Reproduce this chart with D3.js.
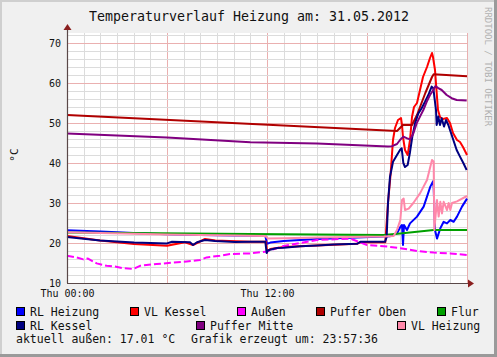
<!DOCTYPE html>
<html><head><meta charset="utf-8">
<script src="https://cdn.jsdelivr.net/npm/d3@7"></script>
<style>
html,body{margin:0;padding:0;background:#f0f0f0;}
svg{display:block;}
text{font-family:"DejaVu Sans Mono",monospace;fill:#111;}
</style></head>
<body>
<svg id="c" width="497" height="357"></svg>
<script>
// ---- data (time in hours of 31.05.2012, value in °C) ----
const title = "Temperaturverlauf Heizung am: 31.05.2012";
const yTicks = [10, 20, 30, 40, 50, 60, 70];
const xTicks = [0, 12];
const xTickLabels = ["Thu 00:00", "Thu 12:00"];
const seriesNames = ["RL Heizung","VL Kessel","Außen","Puffer Oben","Flur","RL Kessel","Puffer Mitte","VL Heizung"];
const seriesColors = ["#0000ff","#ff0000","#ff00ff","#b00000","#00a000","#000080","#800080","#ff88aa"];

const rlHeizung = [[0,23.2],[2,22.9],[4,22.5],[6,22.2],[8,22.0],[10,21.9],[11.9,21.8],[12,19.8],[12.2,20.1],[13,20.5],[15,21.0],[17,21.3],[19,21.6],[19.4,21.7],[19.8,22.4],[20,24],[20.1,24.5],[20.16,19.5],[20.22,24.5],[20.4,23.25],[20.58,24.9],[21,26.6],[21.4,29.1],[21.8,34.1],[21.96,35.4],[22.0,34],[22.08,23.25],[22.2,21.1],[22.3,22.4],[22.4,23.7],[22.6,25.3],[22.8,24.9],[23,25.75],[23.2,25.3],[23.4,26.6],[23.7,29.1],[24,31.1]];
const vlKessel = [[0,21.75],[1.98,20.6],[4.02,19.75],[6,19.3],[7.08,20.2],[7.56,19.5],[8.28,21],[8.9,20.6],[11,20.3],[11.94,20.3],[12,17.8],[12.2,18.5],[13,19],[15,19.4],[17.4,19.8],[17.6,20.2],[19.1,20.2],[19.26,30],[19.42,37.4],[19.56,45.75],[19.68,48.75],[19.86,50.75],[20.04,51.25],[20.1,49.5],[20.16,46.5],[20.28,43.25],[20.44,42],[20.58,45.75],[20.7,51.5],[20.82,54],[21,55],[21.18,58.25],[21.36,61.5],[21.6,64],[21.78,66.25],[21.9,67.5],[21.96,66.5],[22.08,63.25],[22.2,56.5],[22.26,53.25],[22.38,51.5],[22.56,51],[22.8,51.25],[22.98,50],[23.16,47.5],[23.4,45.75],[23.58,45.25],[23.76,44],[24,42]];
const aussen = [[0,16.8],[0.58,16.4],[0.98,15.9],[1.26,16.1],[1.78,14.9],[2.38,14.3],[2.88,14.1],[3.38,13.7],[3.98,13.5],[4.38,14.3],[5.38,14.75],[6.38,15.1],[7.18,15.4],[7.98,15.75],[8.38,16.4],[9.18,16.8],[9.78,17.25],[11,17.4],[12,17.9],[13,19.25],[15,20.75],[17,21.1],[18,19.5],[19.2,19.1],[20,18.7],[21,18],[22,17.6],[23,17.4],[24,17]];
const pufferOben = [[0,52],[19.8,48.0],[20.16,49.5],[20.7,49.5],[21,52],[21.5,57.5],[21.9,61.5],[22.0,62.2],[24,61.7]];
const flur = [[0,22.6],[11,22.25],[19,22],[20,22.4],[21,22.8],[22,23.25],[24,23.25]];
const rlKessel = [[0,21.5],[1.98,20.6],[4.02,20.1],[6,19.9],[6.3,20.3],[7.38,20.2],[7.56,19.5],[7.8,20.2],[8.28,20.75],[8.88,20.5],[10.08,20.25],[11,20.3],[11.9,20.3],[11.98,17.5],[12.06,18.2],[12.6,18.75],[13,18.8],[14,19.2],[15,19.4],[16,19.6],[17.4,19.8],[17.6,20.3],[19.08,20.3],[19.18,21.5],[19.26,30],[19.38,36.6],[19.5,39],[19.56,40.3],[19.8,42],[19.98,43.25],[20.08,43.7],[20.18,40],[20.28,39],[20.44,39.5],[20.58,42.7],[20.72,46.6],[20.88,49.9],[21.08,52.4],[21.28,53.7],[21.48,55.3],[21.68,57],[21.88,59.1],[21.98,58.7],[22.04,56.6],[22.14,53.25],[22.18,49.5],[22.28,51.6],[22.38,49.5],[22.48,51.2],[22.62,49.1],[22.74,50.75],[22.88,49.5],[22.98,48.25],[23.18,45.75],[23.38,43.25],[23.58,41.6],[23.78,40],[23.98,38.25]];
const pufferMitte = [[0,47.4],[6,46.4],[11,45.2],[15,44.9],[19.26,44.1],[19.5,44.2],[19.8,44.75],[19.98,45.75],[20.18,46.6],[20.38,46.2],[20.58,45.9],[20.78,47.4],[20.98,49.9],[21.18,51.6],[21.38,53.25],[21.58,55.3],[21.78,57],[21.98,58.25],[22.1,59.2],[22.28,58.7],[22.48,58.25],[22.78,57],[23.08,56.2],[23.38,55.75],[23.98,55.6]];
const vlHeizung = [[0,22.7],[2,22.5],[4,22.3],[6,22.1],[8,22.0],[10,21.9],[11.9,21.75],[12.06,21.1],[13,21.2],[15,21.4],[19,21.6],[19.6,21.75],[19.8,23.25],[20,25.75],[20.1,30.75],[20.2,31.1],[20.28,28.25],[20.5,28.6],[20.78,30],[21.18,32.4],[21.6,35.75],[21.9,40.75],[22.0,40.4],[22.04,23.25],[22.2,30.75],[22.3,26.6],[22.4,30.3],[22.5,27.4],[22.6,30.3],[22.8,28.25],[22.9,30],[23.0,28.25],[23.1,30],[23.4,30.4],[24,31.75]];
const seriesData = [rlHeizung, vlKessel, aussen, pufferOben, flur, rlKessel, pufferMitte, vlHeizung];
const footerLeft = "aktuell außen: 17.01 °C";
const footerRight = "Grafik erzeugt um: 23:57:36";
const credit = "RRDTOOL / TOBI OETIKER";

// ---- drawing ----
const svg = d3.select("#c");
const W = 497, H = 357;
const L = 67, R = 467, T = 33, B = 283;
const x = d3.scaleLinear().domain([0, 24]).range([L, R]);
const y = d3.scaleLinear().domain([10, 72.5]).range([B, T]);

// frame
svg.append("rect").attr("x",0).attr("y",0).attr("width",W).attr("height",H).attr("fill","#f0f0f0");
svg.append("rect").attr("x",0).attr("y",0).attr("width",W).attr("height",2).attr("fill","#cfcfcf");
svg.append("rect").attr("x",0).attr("y",0).attr("width",2).attr("height",H).attr("fill","#cfcfcf");
svg.append("rect").attr("x",W-3).attr("y",0).attr("width",3).attr("height",H).attr("fill","#9a9a9a");
svg.append("rect").attr("x",0).attr("y",H-3).attr("width",W).attr("height",3).attr("fill","#9a9a9a");

// plot background
svg.append("rect").attr("x",L).attr("y",T).attr("width",R-L).attr("height",B-T).attr("fill","#ffffff");

// grid
const g = svg.append("g").attr("shape-rendering","crispEdges");
d3.range(0, 25, 1).forEach(h => {
  const major = h % 6 === 0;
  g.append("line").attr("x1",x(h)+0.5).attr("x2",x(h)+0.5).attr("y1",T).attr("y2",B)
    .attr("stroke", major ? "#eab0b0" : "#dcdcdc").attr("stroke-width",1);
});
d3.range(10, 73, 2).forEach(v => {
  const major = v % 10 === 0;
  g.append("line").attr("x1",L).attr("x2",R).attr("y1",Math.round(y(v))+0.5).attr("y2",Math.round(y(v))+0.5)
    .attr("stroke", major ? "#eab0b0" : "#dcdcdc").attr("stroke-width",1);
});

// series
const line = d3.line().x(d => x(d[0])).y(d => y(d[1]));
seriesData.forEach((data, i) => {
  svg.append("path").datum(data).attr("d", line)
    .attr("fill","none").attr("stroke", seriesColors[i]).attr("stroke-width", 2)
    .attr("stroke-linejoin","round")
    .attr("stroke-dasharray", seriesNames[i] === "Außen" ? "7,3" : null);
});

// axes
const yAxis = d3.axisLeft(y).tickValues(yTicks).tickSize(0).tickPadding(6);
const ya = svg.append("g").attr("transform",`translate(${L},0)`).call(yAxis);
ya.select(".domain").remove();
ya.selectAll("text").style("font-family","DejaVu Sans Mono").style("font-size","10px").attr("fill","#111");
const xAxis = d3.axisBottom(x).tickValues(xTicks).tickFormat((d,i) => xTickLabels[i]).tickSize(0).tickPadding(7);
const xa = svg.append("g").attr("transform",`translate(0,${B})`).call(xAxis);
xa.select(".domain").remove();
xa.selectAll("text").style("font-family","DejaVu Sans Mono").style("font-size","10px").attr("fill","#111");

svg.append("line").attr("x1",L+0.5).attr("x2",L+0.5).attr("y1",B).attr("y2",T-4).attr("stroke","#5a4848").attr("stroke-width",1.2);
svg.append("line").attr("x1",L).attr("x2",R+4).attr("y1",B+0.5).attr("y2",B+0.5).attr("stroke","#5a4848").attr("stroke-width",1.2);
svg.append("path").attr("d",`M${L-3.5},${T-3} L${L+4.5},${T-3} L${L+0.5},${T-9} Z`).attr("fill","#8a1f1f");
svg.append("path").attr("d",`M${R+1},${B-3.5} L${R+1},${B+4.5} L${R+7},${B+0.5} Z`).attr("fill","#8a1f1f");

// titles
svg.append("text").attr("x",249).attr("y",21).attr("text-anchor","middle").style("font-size","13.3px").text(title);
svg.append("text").attr("transform","translate(18,155) rotate(-90)").attr("text-anchor","middle").style("font-size","11px").text("°C");
svg.append("text").attr("transform","translate(485,7) rotate(90)").attr("text-anchor","start")
  .style("font-size","9px").style("fill","#b0b0b0").text(credit);

// legend
const legendPos = [[16,307],[130,307],[237,307],[316,307],[437,307],[16,321],[196,321],[397,321]];
seriesNames.forEach((n, i) => {
  const [lx, ly] = legendPos[i];
  svg.append("rect").attr("x",lx+0.5).attr("y",ly+0.5).attr("width",8).attr("height",8)
    .attr("fill",seriesColors[i]).attr("stroke","#000").attr("stroke-width",1);
  svg.append("text").attr("x",lx+14).attr("y",ly+8.5).style("font-size","11.5px").text(n);
});
svg.append("text").attr("x",16).attr("y",343).style("font-size","11.5px").text(footerLeft);
svg.append("text").attr("x",191).attr("y",343).style("font-size","11.5px").text(footerRight);
</script>
</body></html>
